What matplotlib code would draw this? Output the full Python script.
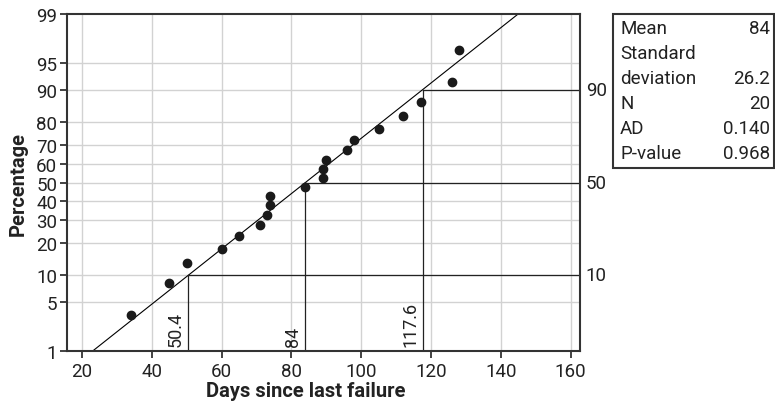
"""
    Normal probability plot of days since last failure,
    with fitted line and 10/50/90 percentile markers.
"""
# Modules:
from statistics import NormalDist
import matplotlib
matplotlib.use("Agg")
import matplotlib.pyplot as plt
import matplotlib.transforms as mtransforms

# Data:
days = [34, 45, 50, 60, 65, 71, 73, 74, 74, 84,
        89, 89, 90, 96, 98, 105, 112, 117, 126, 128]
percent = [3.4, 8.3, 13.2, 18.1, 23.0, 27.9, 32.8, 37.7, 42.6, 47.5,
           52.5, 57.4, 62.3, 67.2, 72.1, 77.0, 81.9, 86.8, 91.7, 96.6]
y_ticks = [1, 5, 10, 20, 30, 40, 50, 60, 70, 80, 90, 95, 99]
x_ticks = [20, 40, 60, 80, 100, 120, 140, 160]
ref_percent = [10, 50, 90]
ref_labels = ["50.4", "84", "117.6"]
mean = 84
sd = 26.2
stats_names = ["Mean", "Standard", "deviation", "N", "AD", "P-value"]
stats_values = ["84", "", "26.2", "20", "0.140", "0.968"]

# Fonts (condensed look, Roboto is the narrowest installed):
plt.rcParams['font.family'] = ['Roboto', 'DejaVu Sans']

nd = NormalDist()
def z(p):
    """ Percentage to normal quantile. """
    return nd.inv_cdf(p / 100.0)

# Figure:
fig = plt.figure(figsize=(7.75, 4.06), dpi=100)
ax = fig.add_axes([0.0865, 0.133, 0.6615, 0.830])

x_min, x_max = 15.7, 162.6
z_min, z_max = z(1), z(99)
ax.set_xlim(x_min, x_max)
ax.set_ylim(z_min, z_max)

# Grid:
for xt in x_ticks:
    ax.axvline(xt, color="#d2d2d2", lw=1.0, zorder=0)
for yt in y_ticks[1:-1]:
    ax.axhline(z(yt), color="#d2d2d2", lw=1.0, zorder=0)

# Fitted line:
ax.plot([mean + sd * z_min, mean + sd * z_max], [z_min, z_max],
        color="black", lw=0.8, zorder=2)

# Percentile reference lines:
for p, lab in zip(ref_percent, ref_labels):
    xp = mean + sd * z(p)
    ax.plot([xp, x_max], [z(p), z(p)], color="#222222", lw=0.9, zorder=2)
    ax.plot([xp, xp], [z_min, z(p)], color="#222222", lw=0.9, zorder=2)
    ax.text(xp - 1.0, z_min + 0.07, lab, rotation=90, ha="right", va="bottom",
            fontsize=13, color="#222222")

# Right side labels:
trans = mtransforms.blended_transform_factory(ax.transAxes, ax.transData)
for p in ref_percent:
    ax.text(1.012, z(p), str(p), transform=trans, ha="left", va="center",
            fontsize=13.5, color="#222222")

# Points:
ax.scatter(days, [z(p) for p in percent], s=36, color="#1a1a1a", zorder=3)

# Ticks:
ax.set_xticks(x_ticks)
ax.set_yticks([z(p) for p in y_ticks])
ax.set_yticklabels([str(p) for p in y_ticks])
ax.tick_params(axis="both", labelsize=13.5, colors="#222222", length=5,
               width=1.2, direction="out")
ax.tick_params(axis="x", pad=3)
ax.tick_params(axis="y", pad=2)
for sp in ax.spines.values():
    sp.set_color("#333333")
    sp.set_linewidth(1.5)

# Axis labels:
fig.text(0.023, 0.548, "Percentage", rotation=90, ha="center", va="center",
         fontsize=14.5, fontweight="bold", color="#222222")
fig.text(0.394, 0.035, "Days since last failure", ha="center", va="center",
         fontsize=14.5, fontweight="bold", color="#222222")

# Stats box:
box = plt.Rectangle((613 / 775, 1 - 169 / 406), 161 / 775, 154 / 406,
                    transform=fig.transFigure, fill=False,
                    edgecolor="#333333", lw=1.5)
fig.add_artist(box)
row_y = [29, 54, 79, 104, 129, 154]
for name, val, ry in zip(stats_names, stats_values, row_y):
    fig.text(620 / 775, 1 - ry / 406, name, ha="left", va="center",
             fontsize=13.5, color="#222222")
    fig.text(770 / 775, 1 - ry / 406, val, ha="right", va="center",
             fontsize=13.5, color="#222222")

fig.savefig("out.png", dpi=100)
